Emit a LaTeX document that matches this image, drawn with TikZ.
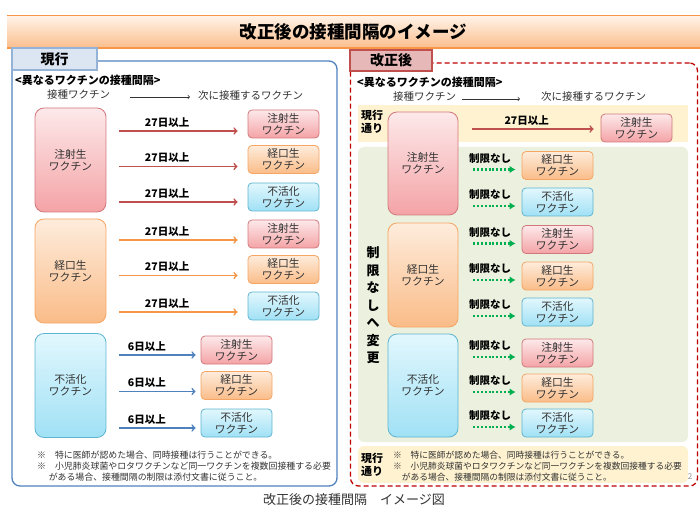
\documentclass[tikz,border=0pt]{standalone}
\usepackage{fontspec}
\setmainfont{Noto Sans CJK JP}
\usetikzlibrary{arrows, arrows.meta}

\definecolor{injtop}{RGB}{253,233,234}
\definecolor{injbot}{RGB}{244,163,166}
\definecolor{injline}{RGB}{210,120,124}
\definecolor{keitop}{RGB}{254,236,220}
\definecolor{keibot}{RGB}{250,188,136}
\definecolor{keiline}{RGB}{245,165,100}
\definecolor{futop}{RGB}{226,247,253}
\definecolor{fubot}{RGB}{160,225,245}
\definecolor{fuline}{RGB}{95,180,210}
\definecolor{redarrow}{RGB}{192,80,77}
\definecolor{orangearrow}{RGB}{247,150,70}
\definecolor{bluearrow}{RGB}{79,129,189}
\definecolor{greenarrow}{RGB}{0,176,80}
\definecolor{titletop}{RGB}{255,243,232}
\definecolor{titlebot}{RGB}{251,190,140}
\definecolor{titleline}{RGB}{247,150,70}
\definecolor{nowfill}{RGB}{220,230,242}
\definecolor{nowborder}{RGB}{149,179,215}
\definecolor{nowpanel}{RGB}{79,129,189}
\definecolor{newfill}{RGB}{230,184,183}
\definecolor{newborder}{RGB}{192,80,77}
\definecolor{newdash}{RGB}{192,0,0}
\definecolor{keepfill}{RGB}{254,242,208}
\definecolor{freefill}{RGB}{235,241,222}
\definecolor{textgray}{RGB}{50,50,50}

\begin{document}
\begin{tikzpicture}[x=1pt, y=-1pt]

% Define styles
\tikzstyle{vbox} = [rectangle, line width=0.8pt, align=center, text=textgray,
    font=\fontsize{10.8}{12}\selectfont, inner sep=0pt]
\tikzstyle{bigbox} = [vbox, minimum width=71pt, minimum height=104pt, rounded corners=9pt]
\tikzstyle{smallbox} = [vbox, minimum width=71pt, minimum height=28pt, rounded corners=4pt]
\tikzstyle{inj} = [draw=injline, top color=injtop, bottom color=injbot]
\tikzstyle{kei} = [draw=keiline, top color=keitop, bottom color=keibot]
\tikzstyle{fu} = [draw=fuline, top color=futop, bottom color=fubot]
\tikzstyle{days} = [font=\bfseries\fontsize{10.5}{12}\selectfont, above, inner sep=3pt]
\tikzstyle{redline} = [draw=redarrow, line width=1.6pt, -to, shorten <=13pt, shorten >=10pt]
\tikzstyle{orangeline} = [redline, draw=orangearrow]
\tikzstyle{blueline} = [redline, draw=bluearrow, shorten >=5pt]
\tikzstyle{freeline} = [draw=greenarrow, line width=2.4pt, dash pattern=on 2pt off 1.8pt,
    -{Latex[length=6pt, width=7.5pt]}, shorten <=15pt, shorten >=6pt]
\tikzstyle{headline} = [draw=textgray, line width=0.7pt, -to]
\tikzstyle{plain} = [inner sep=0pt, text=textgray, font=\fontsize{10.5}{12}\selectfont]
\tikzstyle{head} = [inner sep=0pt, anchor=west, font=\bfseries\fontsize{11}{13}\selectfont]
\tikzstyle{tab} = [rectangle, line width=1.6pt, font=\bfseries\fontsize{14}{16}\selectfont]
\tikzstyle{keep} = [align=center, font=\bfseries\fontsize{11}{12.5}\selectfont]
\tikzstyle{note} = [align=left, anchor=north west, inner sep=0pt, text=textgray,
    font=\fontsize{8.9}{10.8}\selectfont]

\useasboundingbox (0,0) rectangle (700,510);

% Title bar
\node [top color=titletop, bottom color=titlebot, minimum width=693pt, minimum height=32pt,
    inner sep=0pt, font=\bfseries\fontsize{17.5}{20}\selectfont] (title) at (353.5,32)
    {改正後の接種間隔のイメージ};
\draw [titleline, line width=0.8pt] (title.north west) -- (title.north east);
\draw [titleline, line width=1.6pt] (title.south west) -- (title.south east);

% Panels
\node [draw=nowpanel, line width=1.3pt, rounded corners=8pt, minimum width=325pt,
    minimum height=425pt] (lpanel) at (174.5,273.5) {};
\node [tab, draw=nowborder, fill=nowfill, minimum width=85pt, minimum height=22pt] (ltab)
    at (54.5,59) {現行};
\node [draw=newdash, line width=1.3pt, dash pattern=on 5pt off 3pt, rounded corners=8pt,
    minimum width=347pt, minimum height=423pt] (rpanel) at (524,274.5) {};
\node [tab, draw=newborder, fill=newfill, minimum width=82pt, minimum height=21pt] (rtab)
    at (391,60.5) {改正後};

% Bands of the new rule
\node [fill=keepfill, minimum width=330pt, minimum height=37pt] (keeptop) at (523,123.5) {};
\node [fill=freefill, rounded corners=6pt, minimum width=330pt, minimum height=295pt] (freeband)
    at (523,294.5) {};
\node [fill=keepfill, rounded corners=6pt, minimum width=330pt, minimum height=37pt] (keepbot)
    at (523,464.5) {};
\node [keep] (keeptoplabel) at (372,122) {現行\\通り};
\node [keep] (keepbotlabel) at (372,465) {現行\\通り};
\node [align=center, font=\bfseries\fontsize{13}{17.5}\selectfont] (change) at (373,305.5)
    {制\\限\\な\\し\\へ\\変\\更};

% Headings
\node [head] (lhead) at (15,80) {<異なるワクチンの接種間隔>};
\node [plain, anchor=west] (lfrom) at (47,95) {接種ワクチン};
\node [plain, anchor=west] (lto) at (198,96) {次に接種するワクチン};
\draw [headline, shorten <=20pt, shorten >=8pt] ([yshift=-2pt]lfrom.east) -- ([yshift=-2pt]lfrom.east -| lto.west);
\node [head] (rhead) at (357,82) {<異なるワクチンの接種間隔>};
\node [plain, anchor=west] (rfrom) at (393,97) {接種ワクチン};
\node [plain, anchor=west] (rto) at (541,97) {次に接種するワクチン};
\draw [headline, shorten <=6pt, shorten >=21pt] ([yshift=-2pt]rfrom.east) -- ([yshift=-2pt]rfrom.east -| rto.west);

% Place nodes (current rule)
\node [bigbox, inj] (ljin) at (70.5,160) {注射生\\ワクチン};
\node [bigbox, kei] (lkei) at (70.5,271) {経口生\\ワクチン};
\node [bigbox, fu] (lfu) at (70.5,385.5) {不活化\\ワクチン};

\node [smallbox, inj] (lj1) at (283.5,124) {注射生\\ワクチン};
\node [smallbox, kei] (lk1) at (283.5,159.5) {経口生\\ワクチン};
\node [smallbox, fu] (lf1) at (283.5,197) {不活化\\ワクチン};
\node [smallbox, inj] (lj2) at (283.5,234) {注射生\\ワクチン};
\node [smallbox, kei] (lk2) at (283.5,269.5) {経口生\\ワクチン};
\node [smallbox, fu] (lf2) at (283.5,306) {不活化\\ワクチン};
\node [smallbox, inj] (lj3) at (236.5,350) {注射生\\ワクチン};
\node [smallbox, kei] (lk3) at (236.5,385.5) {経口生\\ワクチン};
\node [smallbox, fu] (lf3) at (236.5,423) {不活化\\ワクチン};

% Draw edges (current rule)
\draw [redline] ([yshift=-7pt]ljin.east |- lj1.west) -- node[days, pos=.43] {27日以上} ([yshift=-7pt]lj1.west);
\draw [redline] ([yshift=-7pt]ljin.east |- lk1.west) -- node[days, pos=.43] {27日以上} ([yshift=-7pt]lk1.west);
\draw [redline] ([yshift=-5pt]ljin.east |- lf1.west) -- node[days, pos=.43] {27日以上} ([yshift=-5pt]lf1.west);
\draw [orangeline] ([yshift=-6pt]lkei.east |- lj2.west) -- node[days, pos=.43] {27日以上} ([yshift=-6pt]lj2.west);
\draw [orangeline] ([yshift=-6pt]lkei.east |- lk2.west) -- node[days, pos=.43] {27日以上} ([yshift=-6pt]lk2.west);
\draw [orangeline] ([yshift=-6pt]lkei.east |- lf2.west) -- node[days, pos=.43] {27日以上} ([yshift=-6pt]lf2.west);
\draw [blueline] ([yshift=-5pt]lfu.east |- lj3.west) -- node[days, pos=.43] {6日以上} ([yshift=-5pt]lj3.west);
\draw [blueline] ([yshift=-6pt]lfu.east |- lk3.west) -- node[days, pos=.43] {6日以上} ([yshift=-6pt]lk3.west);
\draw [blueline] ([yshift=-5pt]lfu.east |- lf3.west) -- node[days, pos=.43] {6日以上} ([yshift=-5pt]lf3.west);

% Place nodes (new rule)
\node [bigbox, inj, minimum width=70pt, minimum height=103pt] (rjin) at (423,163.5) {注射生\\ワクチン};
\node [bigbox, kei, minimum width=70pt] (rkei) at (423,275) {経口生\\ワクチン};
\node [bigbox, fu, minimum width=70pt, minimum height=103pt] (rfu) at (423,385.5) {不活化\\ワクチン};

\node [smallbox, inj] (rj0) at (636.5,128) {注射生\\ワクチン};
\node [smallbox, kei] (rk1) at (557.5,165.5) {経口生\\ワクチン};
\node [smallbox, fu] (rf1) at (557.5,202) {不活化\\ワクチン};
\node [smallbox, inj] (rj2) at (557.5,239.5) {注射生\\ワクチン};
\node [smallbox, kei] (rk2) at (557.5,276) {経口生\\ワクチン};
\node [smallbox, fu] (rf2) at (557.5,312) {不活化\\ワクチン};
\node [smallbox, inj] (rj3) at (557.5,353) {注射生\\ワクチン};
\node [smallbox, kei] (rk3) at (557.5,388) {経口生\\ワクチン};
\node [smallbox, fu] (rf3) at (557.5,423) {不活化\\ワクチン};

% Draw edges (new rule)
\draw [redline, shorten <=14pt, shorten >=7pt] ([yshift=-1pt]rjin.east |- rj0.west) -- node[days, pos=.48] {27日以上} ([yshift=-1pt]rj0.west);
\draw [freeline] ([yshift=-4pt]rjin.east |- rk1.west) -- node[days, inner sep=5pt] {制限なし} ([yshift=-4pt]rk1.west);
\draw [freeline] ([yshift=-4pt]rjin.east |- rf1.west) -- node[days, inner sep=5pt] {制限なし} ([yshift=-4pt]rf1.west);
\draw [freeline] ([yshift=-4pt]rkei.east |- rj2.west) -- node[days, inner sep=5pt] {制限なし} ([yshift=-4pt]rj2.west);
\draw [freeline] ([yshift=-4pt]rkei.east |- rk2.west) -- node[days, inner sep=5pt] {制限なし} ([yshift=-4pt]rk2.west);
\draw [freeline] ([yshift=-4pt]rkei.east |- rf2.west) -- node[days, inner sep=5pt] {制限なし} ([yshift=-4pt]rf2.west);
\draw [freeline] ([yshift=-4pt]rfu.east |- rj3.west) -- node[days, inner sep=5pt] {制限なし} ([yshift=-4pt]rj3.west);
\draw [freeline] ([yshift=-4pt]rfu.east |- rk3.west) -- node[days, inner sep=5pt] {制限なし} ([yshift=-4pt]rk3.west);
\draw [freeline] ([yshift=-4pt]rfu.east |- rf3.west) -- node[days, inner sep=5pt] {制限なし} ([yshift=-4pt]rf3.west);

% Notes
\node [note] (lnote) at (37,451)
    {※　特に医師が認めた場合、同時接種は行うことができる。\\
     ※　小児肺炎球菌やロタワクチンなど同一ワクチンを複数回接種する必要\\
     \hspace*{1.3em}がある場合、接種間隔の制限は添付文書に従うこと。};
\node [note, font=\fontsize{8.75}{10.8}\selectfont] (rnote) at (393,451)
    {※　特に医師が認めた場合、同時接種は行うことができる。\\
     ※　小児肺炎球菌やロタワクチンなど同一ワクチンを複数回接種する必要\\
     \hspace*{1em}がある場合、接種間隔の制限は添付文書に従うこと。};
\node [text=black!45, font=\fontsize{8}{9}\selectfont] (page) at (690,477) {2};

% Caption
\node [text=textgray, font=\fontsize{13}{15}\selectfont] (caption) at (354,500) {改正後の接種間隔　イメージ図};

\end{tikzpicture}
\end{document}
